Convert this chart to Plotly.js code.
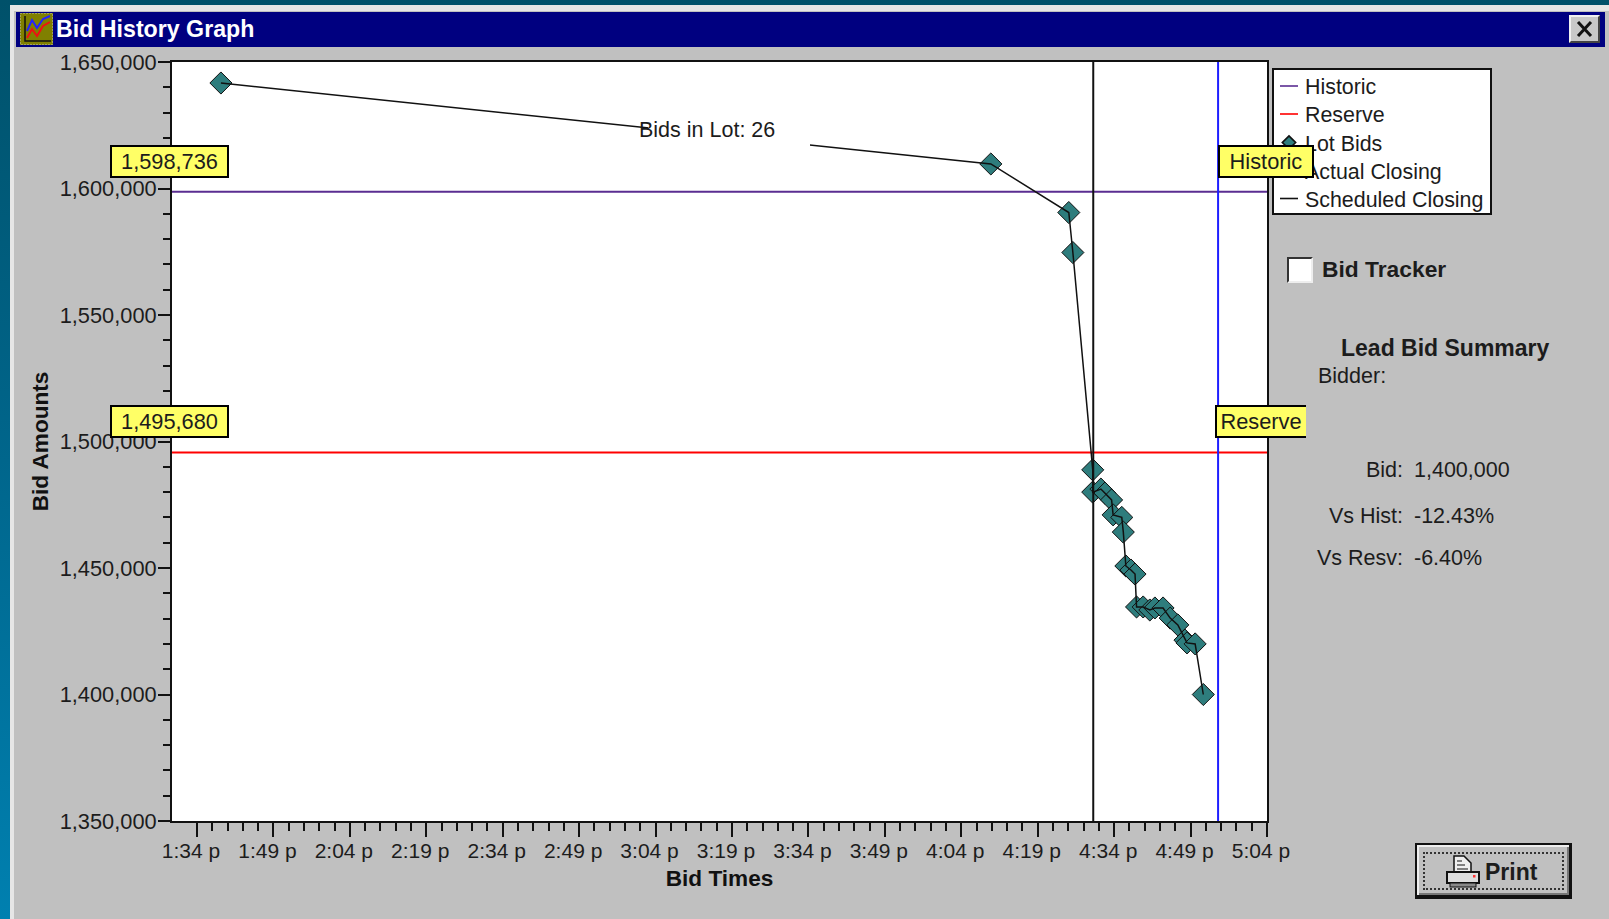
<!DOCTYPE html>
<html><head><meta charset="utf-8">
<script src="https://cdn.plot.ly/plotly-3.0.1.min.js"></script>
<style>
html,body{margin:0;padding:0;width:1609px;height:919px;overflow:hidden;background:linear-gradient(180deg,#00516a 0,#00668c 50%,#0080b0 100%)}
.abs{position:absolute;box-sizing:border-box}
#chart{position:absolute;left:0;top:0;width:1609px;height:919px}
</style></head><body>
<div class="abs" style="left:10px;top:5px;width:1599px;height:914px;background:#c0c0c0;border-left:4px solid #e6e6e6;border-top:6px solid #e6e6e6"></div>
<div class="abs" style="left:16px;top:12px;width:1589px;height:35px;background:#000080"></div>
<svg class="abs" style="left:20px;top:13px" width="33" height="32" viewBox="0 0 33 32">
 <rect width="33" height="32" fill="#808000"/><rect x="0.5" y="0.5" width="32" height="31" fill="none" stroke="#c0c0c0" stroke-dasharray="1 2"/>
 <path d="M5 3V28H31" fill="none" stroke="#111" stroke-width="1.5"/>
 <path d="M7 18L12 7L17 15L23 6L30 3" fill="none" stroke="#2222ff" stroke-width="2"/>
 <path d="M7 25L12 16L17 23L23 13L30 9" fill="none" stroke="#ee1111" stroke-width="2"/>
</svg>
<div class="abs" style="left:1569px;top:15px;width:31px;height:28px;background:#c8c8c8;border:2px solid;border-color:#f0f0f0 #444 #444 #f0f0f0"></div>
<svg class="abs" style="left:1569px;top:15px" width="31" height="28"><path d="M9 7L22 21M22 7L9 21" stroke="#111" stroke-width="3"/></svg>
<div class="abs" style="left:1287px;top:257px;width:26px;height:26px;background:#fff;border:2px solid;border-color:#333 #eee #eee #333"></div>
<div class="abs" style="left:1415px;top:843px;width:157px;height:56px;background:#c0c0c0;border:2px solid #111;border-bottom-width:4px;border-right-width:3px;box-shadow:inset 2px 2px 0 #eee,inset -2px -2px 0 #777"></div>
<div class="abs" style="left:1423px;top:852px;width:141px;height:38px;border:2px dotted #333"></div>
<svg class="abs" style="left:1446px;top:855px" width="34" height="34" viewBox="0 0 34 34">
 <path d="M8 1H18L25 8V17H8Z" fill="#eee" stroke="#111" stroke-width="1.5"/><path d="M11 6H16M11 10H19M11 14H22" stroke="#111"/>
 <rect x="1" y="17" width="32" height="11" fill="#ddd" stroke="#111" stroke-width="2"/><rect x="27" y="20" width="2.5" height="2.5" fill="#f33"/>
 <rect x="4" y="28" width="26" height="4" fill="#888" stroke="#111"/>
</svg>
<div id="chart"></div>
<script>
var tickLabels=["1:34 p","1:49 p","2:04 p","2:19 p","2:34 p","2:49 p","3:04 p","3:19 p","3:34 p","3:49 p","4:04 p","4:19 p","4:34 p","4:49 p","5:04 p"];
var tickMinutes=[814,829,844,859,874,889,904,919,934,949,964,979,994,1009,1024];
var bidTimes=[818.7,969.8,985.1,985.9,989.8,989.8,991.4,992.2,993.5,993.8,995.5,995.8,996.3,997.3,998.1,998.4,999.7,1001,1002,1003.6,1005,1006.5,1007.9,1008.3,1009.9,1011.5];
var bidAmounts=[1641700,1609700,1590500,1574700,1488800,1480000,1481200,1479600,1476900,1471000,1470000,1464200,1450800,1449200,1447600,1434600,1434600,1433400,1434200,1434200,1430200,1427500,1421500,1420400,1420000,1400000];
var historicValue=1598736, reserveValue=1495680;
var scheduledClosing=989.9, actualClosing=1014.4;
var xRange=[809.1,1024], yRange=[1350000,1650000];
var summaryLabels=["Bid:","Vs Hist:","Vs Resv:"];
var summaryValues=["1,400,000","-12.43%","-6.40%"];

var FONT="Liberation Sans, Arial, sans-serif", INK="#1c1c1c";
var L=172,R=1267,T=62,B=821;
function px(x){return (x-L)/(R-L);}
function py(y){return 1-(y-T)/(B-T);}
function note(x,y,text,o){
  o=o||{};
  return Object.assign({xref:"paper",yref:"paper",x:px(x),y:py(y),text:text,showarrow:false,xanchor:"left",yanchor:"middle",
    font:{family:FONT,size:o.size||21.5,color:INK}},o.extra||{});
}
function bold(x,y,text,size){return note(x,y,"<b>"+text+"</b>",{size:size||22.8});}
function tip(x,y,w,text){
  return note(x,y,text,{size:21.8,extra:{bgcolor:"#ffff66",bordercolor:"#000",borderwidth:2,borderpad:0,width:w-4,height:29,align:"center",xanchor:"left"}});
}
var minorTicks=[];
tickMinutes.slice(0,-1).forEach(function(t){[3,6,9,12].forEach(function(d){minorTicks.push(t+d);});});

var traces=[
 {name:"Historic",x:xRange,y:[historicValue,historicValue],mode:"lines",line:{color:"#5a2d91",width:2}},
 {name:"Reserve",x:xRange,y:[reserveValue,reserveValue],mode:"lines",line:{color:"#ff0000",width:2}},
 {name:"Lot Bids",x:bidTimes,y:bidAmounts,mode:"markers",marker:{symbol:"diamond",size:17,color:"#2e7d7d",line:{color:"#111",width:1}}},
 {name:"Lot Bids line",x:bidTimes,y:bidAmounts,mode:"lines",showlegend:false,line:{color:"#111",width:1.5}},
 {name:"Actual Closing",x:[actualClosing,actualClosing],y:yRange,mode:"lines",line:{color:"#1f1fff",width:2}},
 {name:"Scheduled Closing",x:[scheduledClosing,scheduledClosing],y:yRange,mode:"lines",line:{color:"#111",width:2}}
];
var annotations=[
 note(637,130,"Bids in Lot: 26"),
 tip(110,161,119,"1,598,736"),
 tip(110,421,119,"1,495,680"),
 tip(1218,161,96,"Historic"),
 tip(1215,421,92,"Reserve"),
 bold(1320,269,"Bid Tracker"),
 bold(1339,348,"Lead Bid Summary",23),
 note(1316,376,"Bidder:")
];
annotations.push(bold(1483,872,"Print",23));
[470,516,558].forEach(function(y,i){
  annotations.push(Object.assign(note(1405,y,summaryLabels[i]),{xanchor:"right"}));
  annotations.push(note(1412,y,summaryValues[i]));
});
var layout={
 width:1609,height:919,
 margin:{l:L,r:1609-R,t:T,b:919-B,pad:0,autoexpand:false},
 paper_bgcolor:"rgba(0,0,0,0)",plot_bgcolor:"#ffffff",
 font:{family:FONT,size:21,color:INK},
 title:{text:"<b>Bid History Graph</b>",xref:"container",yref:"container",x:56/1609,xanchor:"left",y:1-29/919,yanchor:"middle",font:{family:FONT,size:23.2,color:"#ffffff"}},
 showlegend:true,
 legend:{x:px(1272),y:py(68),xanchor:"left",yanchor:"top",bgcolor:"#ffffff",bordercolor:"#111",borderwidth:2,font:{family:FONT,size:21.4,color:INK},itemsizing:"constant",traceorder:"normal",itemclick:false,itemdoubleclick:false},
 xaxis:{range:xRange,tickmode:"array",tickvals:tickMinutes,ticktext:tickLabels,ticks:"outside",ticklen:14,tickwidth:2,tickcolor:"#111",
   ticklabelshift:-6,ticklabelstandoff:-4,
   minor:{tickmode:"array",tickvals:minorTicks,ticks:"outside",ticklen:8,tickwidth:2,tickcolor:"#111",showgrid:false},
   showgrid:false,zeroline:false,showline:true,mirror:true,linecolor:"#111",linewidth:2,tickfont:{family:FONT,size:21,color:INK},
   title:{text:"<b>Bid Times</b>",font:{family:FONT,size:22.6,color:"#111"},standoff:9},tickangle:0},
 yaxis:{range:yRange,tickmode:"linear",tick0:1350000,dtick:50000,tickformat:",d",ticks:"outside",ticklen:12,tickwidth:2,tickcolor:"#111",
   ticklabelstandoff:-3,
   minor:{dtick:10000,ticks:"outside",ticklen:7,tickwidth:2,tickcolor:"#111",showgrid:false},
   showgrid:false,zeroline:false,showline:true,mirror:true,linecolor:"#111",linewidth:2,tickfont:{family:FONT,size:21.8,color:INK},
   title:{text:"<b>Bid Amounts</b>",font:{family:FONT,size:22.6,color:"#111"},standoff:5}},
 shapes:[{type:"rect",xref:"paper",yref:"paper",x0:px(648),x1:px(810),y0:py(114),y1:py(152),fillcolor:"#ffffff",line:{width:0},layer:"above"}],
 annotations:annotations,
 hovermode:false
};
var legendRows=[18,46,74.5,102.5,130.5];
Plotly.newPlot("chart",traces,layout,{displayModeBar:false,staticPlot:true}).then(function(gd){
  // The original legend has tighter rows and shorter samples than Plotly's defaults.
  var root=document.getElementById("chart");
  root.querySelectorAll(".legend .traces").forEach(function(g,i){
    g.setAttribute("transform","translate(0,"+legendRows[i]+")");
    var t=g.querySelector(".legendtext"); if(t) t.setAttribute("x","33");
    var line=g.querySelector(".legendlines path"); if(line){line.setAttribute("d","M8,0h18");line.style.strokeWidth="1.6px";}
    var pt=g.querySelector(".legendpoints path"); if(pt) pt.setAttribute("transform","translate(17,0) scale(.85)");
  });
  var bg=root.querySelector(".legend rect.bg");
  if(bg){bg.setAttribute("width","218");bg.setAttribute("height","145");}
  // The Reserve flag is cut off by the panel: no right border.
  var flag=root.querySelector('.annotation[data-index="4"] rect.bg');
  if(flag){
    var w=+flag.getAttribute("width"),h=+flag.getAttribute("height");
    flag.style.strokeDasharray=w+" "+h+" "+(w+h);
  }
});
</script>
</body></html>
